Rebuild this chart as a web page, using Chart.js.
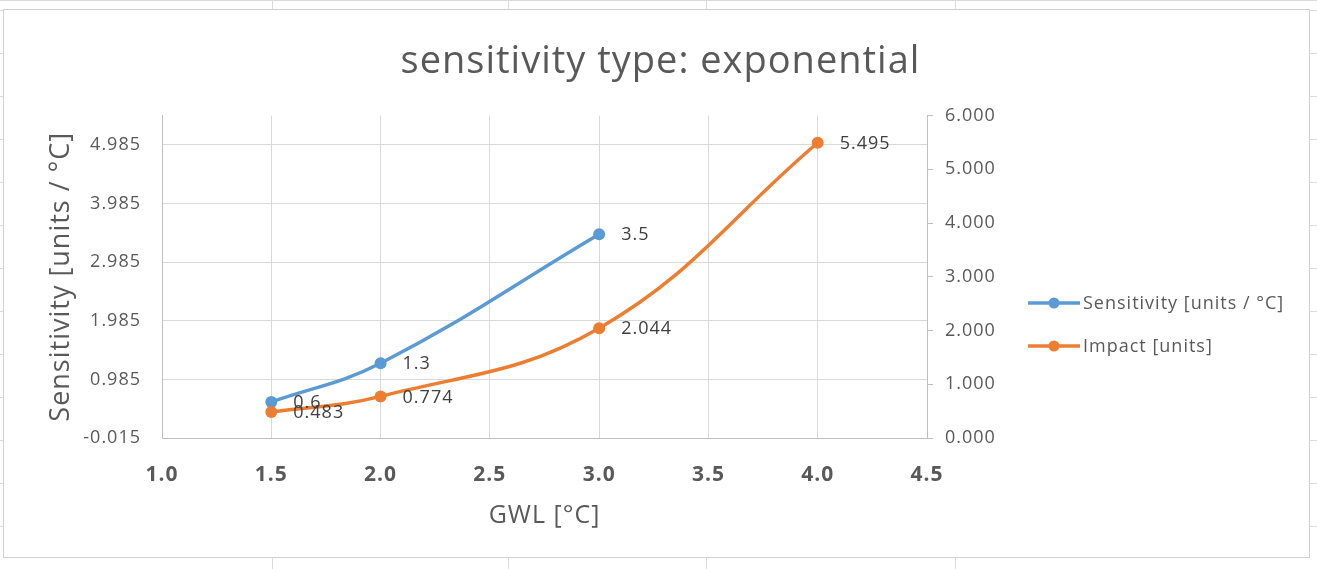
<!DOCTYPE html>
<html>
<head>
<meta charset="utf-8">
<title>sensitivity type: exponential</title>
<script src="https://cdn.jsdelivr.net/npm/chart.js@4"></script>
<style>
  body {
    margin: 0;
    width: 1317px;
    height: 569px;
    overflow: hidden;
    position: relative;
    background-color: #fff;
    background-image: repeating-linear-gradient(to bottom, #dadada 0 1px, transparent 1px 43px);
    background-position: 0 10px;
  }
  .col { position: absolute; top: 0; width: 1px; height: 569px; background: #dadada; }
  #box { position: absolute; left: 3px; top: 9px; width: 1305px; height: 547px; background: #fff; border: 1px solid #d0d0d0; }
  canvas { position: absolute; left: 0; top: 0; }
</style>
</head>
<body>
<div class="col" style="left:272px"></div>
<div class="col" style="left:508px"></div>
<div class="col" style="left:706px"></div>
<div class="col" style="left:955px"></div>
<div id="box"></div>
<canvas id="chart" width="1317" height="569"></canvas>
<script>
// GWL values for each series
const gwlSens = [1.5, 2.0, 3.0];
const gwlImpact = [1.5, 2.0, 3.0, 4.0];

// series values (sensitivity labels are shown with one decimal)
const sensitivity = [0.6, 1.26, 3.46];
const impact = [0.483, 0.774, 2.044, 5.495];

// left axis ticks (Excel starts them at -0.015)
const leftTicks = [-0.015, 0.985, 1.985, 2.985, 3.985, 4.985];

const blue = "#5b9bd5";
const orange = "#ed7d31";
const textGrey = "#595959";
const font = "'Open Sans', 'DejaVu Sans', sans-serif";

// a bit of letter spacing, the Excel text is wider
const spacing = {
    id: "spacing",
    beforeDraw(chart) {
        chart.ctx.letterSpacing = "1px";
    },
};

// data labels next to each point
const valueLabels = {
    id: "valueLabels",
    afterDatasetsDraw(chart) {
        const ctx = chart.ctx;
        ctx.save();
        ctx.font = "18px " + font;
        ctx.fillStyle = "#404040";
        ctx.textBaseline = "middle";
        ctx.textAlign = "left";
        chart.data.datasets.forEach((ds, i) => {
            chart.getDatasetMeta(i).data.forEach((pt, j) => {
                ctx.fillText(ds.valueText[j], pt.x + 22, pt.y + 1);
            });
        });
        ctx.restore();
    },
};

// legend on the right, line + marker like Excel
const sideLegend = {
    id: "sideLegend",
    afterDraw(chart) {
        const ctx = chart.ctx;
        const x0 = chart.chartArea.right + 101;
        ctx.save();
        chart.data.datasets.forEach((ds, i) => {
            const y = 303 + i * 43;
            ctx.strokeStyle = ds.borderColor;
            ctx.lineWidth = 3.5;
            ctx.beginPath();
            ctx.moveTo(x0, y);
            ctx.lineTo(x0 + 52, y);
            ctx.stroke();
            ctx.fillStyle = ds.borderColor;
            ctx.beginPath();
            ctx.arc(x0 + 26, y, 5.5, 0, Math.PI * 2);
            ctx.fill();
            ctx.fillStyle = textGrey;
            ctx.font = "18px " + font;
            ctx.textBaseline = "middle";
            ctx.fillText(ds.label, x0 + 55, y + 1);
        });
        ctx.restore();
    },
};

const canvas = document.querySelector("#chart");
const chart = new Chart(canvas, {
    type: "line",
    data: {
        datasets: [
            {
                label: "Sensitivity [units / °C]",
                data: gwlSens.map((x, i) => ({ x, y: sensitivity[i] })),
                valueText: sensitivity.map((v) => v.toFixed(1)),
                yAxisID: "y",
                borderColor: blue,
                backgroundColor: blue,
                borderWidth: 3.5,
                pointRadius: 6,
                pointBorderWidth: 0,
                tension: 0.4,
                order: 1,
            },
            {
                label: "Impact [units]",
                data: gwlImpact.map((x, i) => ({ x, y: impact[i] })),
                valueText: impact.map((v) => v.toFixed(3)),
                yAxisID: "y1",
                borderColor: orange,
                backgroundColor: orange,
                borderWidth: 3.5,
                pointRadius: 6,
                pointBorderWidth: 0,
                tension: 0.4,
                order: 0,
            },
        ],
    },
    options: {
        responsive: false,
        animation: false,
        layout: { padding: { left: 4, right: 0, top: 10, bottom: 11 } },
        plugins: {
            legend: { display: false },
            tooltip: { enabled: false },
            title: {
                display: true,
                text: "sensitivity type: exponential",
                color: textGrey,
                font: { family: font, size: 38, weight: "normal" },
                padding: { top: 29, bottom: 31 },
            },
        },
        scales: {
            x: {
                type: "linear",
                min: 1,
                max: 4.5,
                ticks: {
                    stepSize: 0.5,
                    callback: (v) => v.toFixed(1),
                    color: textGrey,
                    font: { family: font, size: 21, weight: "bold" },
                    padding: 24,
                },
                grid: { color: "#d9d9d9", drawTicks: false },
                border: { color: "#bfbfbf" },
                title: {
                    display: true,
                    text: "GWL [°C]",
                    color: textGrey,
                    font: { family: font, size: 25 },
                    padding: { top: 0, bottom: 27 },
                },
                afterFit: (s) => { s.height = 120; },
            },
            y: {
                position: "left",
                min: -0.015,
                max: 5.485,
                afterBuildTicks: (s) => { s.ticks = leftTicks.map((v) => ({ value: v })); },
                ticks: {
                    callback: (v) => v.toFixed(3),
                    color: textGrey,
                    font: { family: font, size: 18 },
                    padding: 21,
                },
                grid: { color: "#d9d9d9", drawTicks: false },
                border: { color: "#bfbfbf" },
                title: {
                    display: true,
                    text: "Sensitivity [units / °C]",
                    color: textGrey,
                    font: { family: font, size: 27 },
                    padding: { top: 41, bottom: 0 },
                },
                afterFit: (s) => { s.width = 158; },
            },
            y1: {
                position: "right",
                min: 0,
                max: 6,
                ticks: {
                    stepSize: 1,
                    callback: (v) => v.toFixed(3),
                    color: textGrey,
                    font: { family: font, size: 18 },
                    padding: 12,
                },
                grid: { drawOnChartArea: false, color: "#bfbfbf", tickLength: 6 },
                border: { color: "#bfbfbf" },
                afterFit: (s) => { s.width = 390; },
            },
        },
    },
    plugins: [spacing, valueLabels, sideLegend],
});
</script>
</body>
</html>
